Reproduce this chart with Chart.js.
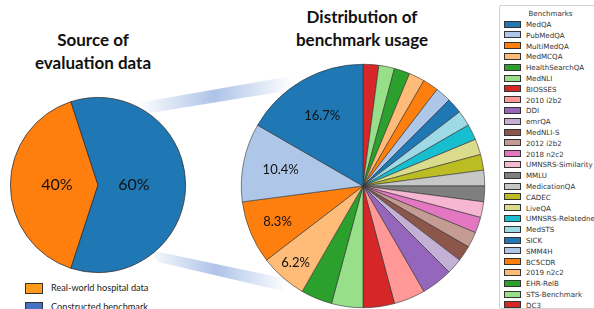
<!DOCTYPE html>
<html>
<head>
<meta charset="utf-8">
<script src="https://cdn.jsdelivr.net/npm/chart.js@4.4.1/dist/chart.umd.min.js"></script>
<style>
  html, body { margin:0; padding:0; background:#fff; }
  #wrap { position:relative; width:594px; height:309px; overflow:hidden; font-family: Lato, "Open Sans", sans-serif; }
  .title { position:absolute; font-weight:bold; font-size:17px; line-height:23px; text-align:center; color:#111; }
  #srcCanvasBox { position:absolute; left:8px; top:95px; width:180px; height:180px; }
  #benchCanvasBox { position:absolute; left:239px; top:62px; width:248px; height:248px; }
  #bands { position:absolute; left:0; top:0; }
  #legend { position:absolute; left:499px; top:5px; width:110px; height:302px; border:1px solid #d0d0d0; border-radius:2px; font-family:"DejaVu Sans", sans-serif; font-size:7.1px; color:#333; }
  #legend .lt { position:absolute; left:0; width:101px; text-align:center; top:3px; }
  #legend .row { position:absolute; left:4px; height:10px; line-height:10px; white-space:nowrap; }
  #legend .sw { display:inline-block; width:15px; height:5px; border:0.6px solid #333; vertical-align:middle; margin-right:5px; position:relative; top:-1px; }
  #srcLegend { position:absolute; left:25px; top:282px; font-size:9.2px; color:#222; }
  #srcLegend .row { position:relative; height:19px; line-height:11px; white-space:nowrap; }
  #srcLegend .sw { display:inline-block; width:16px; height:9px; border:1px solid #333; vertical-align:middle; margin-right:8px; }
</style>
</head>
<body>
<div id="wrap">
  <svg id="bands" width="594" height="309">
    <defs>
      <linearGradient id="g1" x1="137" y1="0" x2="292" y2="0" gradientUnits="userSpaceOnUse">
        <stop offset="0" stop-color="#ffffff"/>
        <stop offset="0.5" stop-color="#aec3e8"/>
        <stop offset="1" stop-color="#ffffff"/>
      </linearGradient>
      <linearGradient id="g2" x1="145" y1="0" x2="287" y2="0" gradientUnits="userSpaceOnUse">
        <stop offset="0" stop-color="#ffffff"/>
        <stop offset="0.5" stop-color="#aec3e8"/>
        <stop offset="1" stop-color="#ffffff"/>
      </linearGradient>
    </defs>
    <polygon points="137,103 292,76 292,90 150,113" fill="url(#g1)"/>
    <polygon points="150,250 287,279 287,292 158,262" fill="url(#g2)"/>
  </svg>
  <div class="title" style="left:13px; top:28px; width:160px;">Source of<br>evaluation data</div>
  <div class="title" style="left:282px; top:5px; width:160px;">Distribution of<br>benchmark usage</div>
  <div id="srcCanvasBox"><canvas id="src"></canvas></div>
  <div id="benchCanvasBox"><canvas id="bench"></canvas></div>
  <div id="legend"><div class="lt">Benchmarks</div></div>
  <div id="srcLegend"></div>
</div>
<script>
// ---- data ----
const sourceLabels = ["Real-world hospital data", "Constructed benchmark"];
const sourceValues = [40, 60];
const sourceText = ["40%", "60%"];
const sourceColors = ["#ff7f0e", "#1f77b4"];
const sourceLegendColors = ["#ff9a1a", "#4472c4"];

const benchLabels = ["MedQA","PubMedQA","MultiMedQA","MedMCQA","HealthSearchQA","MedNLI","BIOSSES","2010 i2b2","DDI","emrQA","MedNLI-S","2012 i2b2","2018 n2c2","UMNSRS-Similarity","MMLU","MedicationQA","CADEC","LiveQA","UMNSRS-Relatedness","MedSTS","SICK","SMM4H","BC5CDR","2019 n2c2","EHR-RelB","STS-Benchmark","DC3"];
const benchValues = [8,5,4,3,2,2,2,2,2,1,1,1,1,1,1,1,1,1,1,1,1,1,1,1,1,1,1];
const benchText = ["16.7%","10.4%","8.3%","6.2%"];
const tab20 = ["#1f77b4","#aec7e8","#ff7f0e","#ffbb78","#2ca02c","#98df8a","#d62728","#ff9896","#9467bd","#c5b0d5","#8c564b","#c49c94","#e377c2","#f7b6d2","#7f7f7f","#c7c7c7","#bcbd22","#dbdb8d","#17becf","#9edae5"];
const benchColors = benchLabels.map((_, i) => tab20[i % 20]);

// ---- label plugin ----
function labelPlugin(fracs, font) {
  return {
    id: 'sliceLabels',
    afterDatasetsDraw(chart) {
      const ctx = chart.ctx;
      const meta = chart.getDatasetMeta(0);
      const txt = chart.options.plugins.sliceLabels.texts;
      ctx.save();
      ctx.font = font;
      ctx.fillStyle = '#111';
      ctx.textAlign = 'center';
      ctx.textBaseline = 'middle';
      meta.data.forEach((arc, i) => {
        const t = txt[i];
        if (!t) return;
        const p = arc.getProps(['x','y','startAngle','endAngle','outerRadius'], true);
        const a = (p.startAngle + p.endAngle) / 2;
        const f = fracs[i] !== undefined ? fracs[i] : 0.65;
        ctx.fillText(t, p.x + Math.cos(a) * p.outerRadius * f, p.y + Math.sin(a) * p.outerRadius * f);
      });
      ctx.restore();
    }
  };
}

// source pie
new Chart(document.getElementById('src'), {
  type: 'pie',
  data: { labels: sourceLabels, datasets: [{ data: sourceValues, backgroundColor: sourceColors, borderColor: '#333', borderWidth: 0.8 }] },
  options: {
    responsive: true, maintainAspectRatio: false, animation: false, rotation: 198,
    layout: { padding: 2 },
    plugins: { legend: { display: false }, tooltip: { enabled: false }, sliceLabels: { texts: sourceText } }
  },
  plugins: [labelPlugin([0.47, 0.41], '16px Lato, "Open Sans", sans-serif')]
});

// benchmark pie (counter-clockwise from top => reversed order clockwise)
const revLabels = benchLabels.slice().reverse();
const revValues = benchValues.slice().reverse();
const revColors = benchColors.slice().reverse();
const revText = revLabels.map((l) => { const i = benchLabels.indexOf(l); return benchText[i] || ''; });
const revFracs = revLabels.map((l) => { const i = benchLabels.indexOf(l); return [0.67, 0.69, 0.76, 0.84][i]; });
new Chart(document.getElementById('bench'), {
  type: 'pie',
  data: { labels: revLabels, datasets: [{ data: revValues, backgroundColor: revColors, borderColor: '#333', borderWidth: 0.6 }] },
  options: {
    responsive: true, maintainAspectRatio: false, animation: false, rotation: 0,
    layout: { padding: 2 },
    plugins: { legend: { display: false }, tooltip: { enabled: false }, sliceLabels: { texts: revText } }
  },
  plugins: [labelPlugin(revFracs, '13px Lato, "Open Sans", sans-serif')]
});

// legends
const lg = document.getElementById('legend');
benchLabels.forEach((l, i) => {
  const r = document.createElement('div');
  r.className = 'row';
  r.style.top = (14 + i * 10.8) + 'px';
  r.innerHTML = '<span class="sw" style="background:' + benchColors[i] + '"></span>' + l;
  lg.appendChild(r);
});
const sl = document.getElementById('srcLegend');
sourceLabels.forEach((l, i) => {
  const r = document.createElement('div');
  r.className = 'row';
  r.innerHTML = '<span class="sw" style="background:' + sourceLegendColors[i] + '"></span>' + l;
  sl.appendChild(r);
});
</script>
</body>
</html>
